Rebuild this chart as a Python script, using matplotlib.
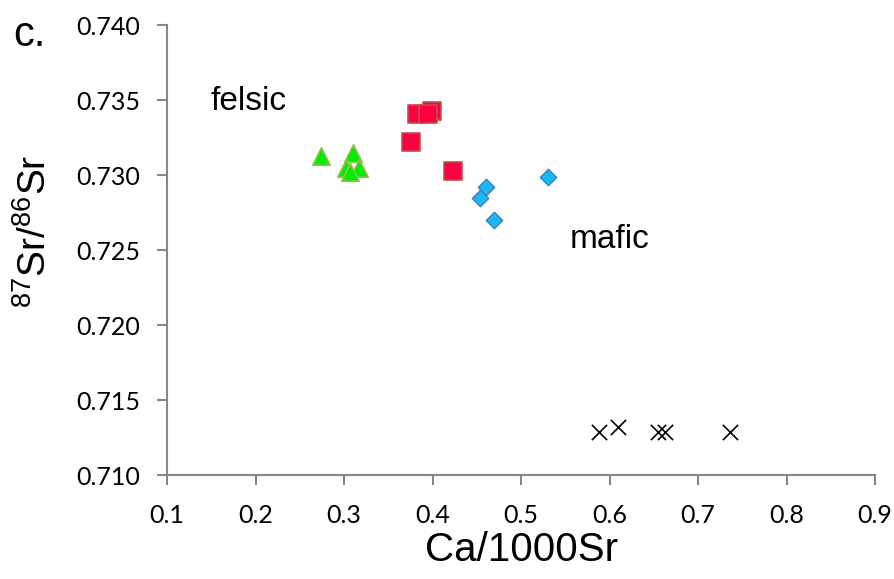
import matplotlib.pyplot as plt

plt.rcParams["mathtext.fontset"] = "custom"
plt.rcParams["mathtext.rm"] = "Liberation Sans"

# Ca/1000Sr vs 87Sr/86Sr for each group
tri_x = [0.274, 0.310, 0.302, 0.317, 0.307]
tri_y = [0.7313, 0.7315, 0.7305, 0.7305, 0.7302]

sq_x = [0.382, 0.399, 0.395, 0.376, 0.423]
sq_y = [0.7341, 0.7343, 0.7341, 0.7322, 0.7303]

dia_x = [0.460, 0.454, 0.469, 0.530]
dia_y = [0.7292, 0.7285, 0.7270, 0.7299]

cross_x = [0.588, 0.610, 0.655, 0.663, 0.736]
cross_y = [0.7129, 0.7132, 0.7129, 0.7129, 0.7129]

xticks = [0.1, 0.2, 0.3, 0.4, 0.5, 0.6, 0.7, 0.8, 0.9]
yticks = [0.710, 0.715, 0.720, 0.725, 0.730, 0.735, 0.740]

fig = plt.figure(figsize=(8.94, 5.79), dpi=100)
ax = fig.add_axes([0.1868, 0.1796, 0.792, 0.777])

ax.scatter(tri_x, tri_y, marker="^", s=160, color="#00ee00", edgecolors="#9bbb59", linewidths=1.2, zorder=3)
ax.scatter(sq_x, sq_y, marker="s", s=160, color="#ff0040", edgecolors="#c0504d", linewidths=1.2, zorder=3)
ax.scatter(dia_x, dia_y, marker="D", s=70, color="#1ab8f5", edgecolors="#3f7fc0", linewidths=1.0, zorder=3)
ax.scatter(cross_x, cross_y, marker="x", s=120, color="black", linewidths=1.2, zorder=3)

ax.set_xlim(0.1, 0.9)
ax.set_ylim(0.710, 0.740)
ax.set_xticks(xticks)
ax.set_yticks(yticks)
ax.set_xticklabels([f"{v:.1f}" for v in xticks])
ax.set_yticklabels([f"{v:.3f}" for v in yticks])

for side in ["top", "right"]:
    ax.spines[side].set_visible(False)
for side in ["left", "bottom"]:
    ax.spines[side].set_color("#868686")
    ax.spines[side].set_linewidth(1.5)
ax.tick_params(axis="both", colors="#868686", length=7, width=1.5, direction="out",
               labelcolor="black", labelsize=18)
ax.tick_params(axis="x", pad=14)
ax.tick_params(axis="y", pad=12)
for lab in ax.get_xticklabels() + ax.get_yticklabels():
    lab.set_family("Lato")

ax.set_xlabel("Ca/1000Sr", fontsize=29, family="Liberation Sans", va="center")
ax.xaxis.set_label_coords(0.5, -0.167)
ax.set_ylabel(r"$^{87}$Sr/$^{86}$Sr", fontsize=28, family="Liberation Sans", va="center")
ax.yaxis.set_label_coords(-0.187, 0.542)

ax.text(0.149, 0.7349, "felsic", fontsize=24, family="Liberation Sans", va="center")
ax.text(0.555, 0.7257, "mafic", fontsize=24, family="Liberation Sans", va="center")
fig.text(0.015, 0.94, "c.", fontsize=30, family="Liberation Sans", va="center")

plt.savefig("out.png", dpi=100)
